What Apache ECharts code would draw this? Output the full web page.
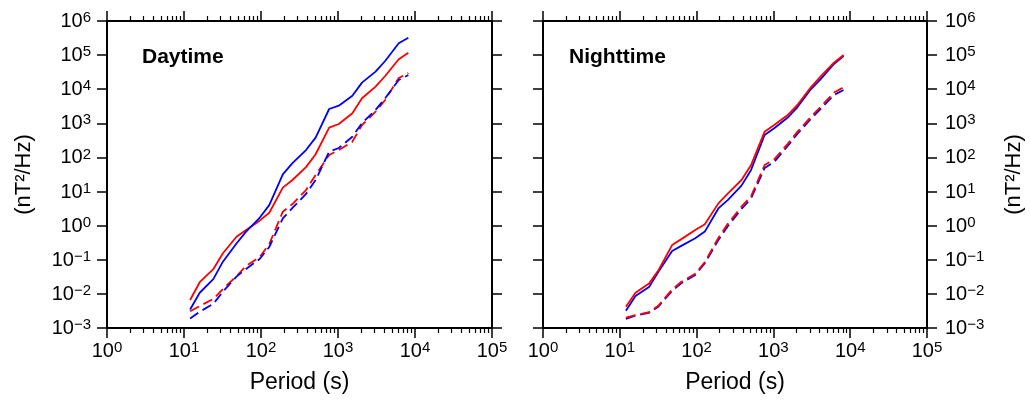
<!DOCTYPE html>
<html>
<head>
<meta charset="utf-8">
<script src="https://cdn.jsdelivr.net/npm/echarts@6/dist/echarts.min.js"></script>
<style>
html,body{margin:0;padding:0;background:#fff;}
#chart{width:1030px;height:403px;}
</style>
</head>
<body>
<div id="chart"></div>
<script>
// ---- data ----
const periods = [12, 16, 24, 32, 48, 64, 96, 128, 192, 256, 384, 512, 768, 1024, 1536, 2048, 3072, 4096, 6144, 8192];

const dayBlueSolid = [0.0035, 0.0108, 0.027, 0.088, 0.30, 0.67, 1.7, 4.0, 32, 68, 165, 380, 2630, 3290, 6460, 15600, 32700, 67300, 222000, 324000];
const dayRedSolid  = [0.0066, 0.022, 0.053, 0.155, 0.475, 0.75, 1.4, 2.4, 13, 21.8, 52, 124, 745, 957, 1970, 5420, 11900, 24400, 75400, 118000];
const dayBlueDash  = [0.0019, 0.003, 0.0051, 0.0116, 0.032, 0.054, 0.105, 0.237, 1.64, 3.3, 8.5, 21.8, 147, 189, 406, 1020, 2460, 5420, 18600, 26100];
const dayRedDash   = [0.0031, 0.0044, 0.0071, 0.0139, 0.033, 0.066, 0.12, 0.29, 2.57, 4.3, 11.1, 30.6, 118, 165, 290, 894, 2190, 4830, 21300, 29900];

const nightBlueSolid = [0.0032, 0.0087, 0.016, 0.045, 0.18, 0.26, 0.43, 0.67, 3.2, 5.7, 14.9, 43, 455, 716, 1480, 2950, 9950, 19500, 55000, 94200];
const nightRedSolid  = [0.0042, 0.0108, 0.020, 0.05, 0.27, 0.41, 0.75, 1.1, 4.5, 8.9, 21.8, 60, 569, 894, 1750, 3450, 11400, 23300, 60000, 101000];
const nightBlueDash  = [0.00184, 0.0023, 0.0028, 0.0043, 0.0122, 0.021, 0.036, 0.079, 0.38, 0.98, 3.1, 6.3, 49, 74, 217, 487, 1340, 2630, 6770, 9490];
const nightRedDash   = [0.0020, 0.0024, 0.0029, 0.0046, 0.0135, 0.023, 0.039, 0.086, 0.44, 1.15, 3.6, 7.3, 60, 88, 250, 560, 1550, 3000, 8000, 11400];

const xMajorTicks = [1, 10, 100, 1000, 10000, 100000];
const yMajorTicks = [0.001, 0.01, 0.1, 1, 10, 100, 1000, 10000, 100000, 1000000];
const minorMultipliers = [2, 3, 4, 5, 6, 7, 8, 9];
const xMinorTicks = [];
[1, 10, 100, 1000, 10000].forEach(d => minorMultipliers.forEach(m => xMinorTicks.push(d * m)));

const panelTitles = ['Daytime', 'Nighttime'];
const xTitle = 'Period (s)';
const yTitle = '(nT\u00b2/Hz)';

// ---- chart ----
const FONT = '"Liberation Sans", Arial, Helvetica, sans-serif';
const BLACK = '#000';

function supFormatter(v) {
  const e = Math.round(Math.log10(v));
  const s = e < 0 ? '\u2212' + (-e) : String(e);
  return '{b|10}{s|' + s + '}';
}
const labelRich = {
  b: { fontSize: 20, fontFamily: FONT, color: BLACK, lineHeight: 21, verticalAlign: 'bottom' },
  s: { fontSize: 15, fontFamily: FONT, color: BLACK, lineHeight: 15, padding: [0, 0, 9, 0], verticalAlign: 'top' }
};

function xAxesFor(gi) {
  const base = { type: 'log', logBase: 10, gridIndex: gi, min: 1, max: 100000, splitLine: { show: false }, axisPointer: { show: false } };
  return [
    Object.assign({}, base, {
      position: 'bottom',
      axisLine: { show: true, lineStyle: { color: BLACK, width: 2 } },
      axisTick: { show: true, inside: false, length: 10, customValues: xMajorTicks, lineStyle: { color: BLACK, width: 1.5 } },
      axisLabel: { show: true, customValues: xMajorTicks, formatter: supFormatter, rich: labelRich, margin: 12 },
      name: xTitle, nameLocation: 'middle', nameGap: 43,
      nameTextStyle: { fontSize: 23, fontFamily: FONT, color: BLACK }
    }),
    Object.assign({}, base, {
      position: 'bottom',
      axisLine: { show: false },
      axisTick: { show: true, inside: false, length: 5, customValues: xMinorTicks, lineStyle: { color: BLACK, width: 1.2 } },
      axisLabel: { show: false }
    }),
    Object.assign({}, base, {
      position: 'top',
      axisLine: { show: true, lineStyle: { color: BLACK, width: 2 } },
      axisTick: { show: true, inside: false, length: 10, customValues: xMajorTicks, lineStyle: { color: BLACK, width: 1.5 } },
      axisLabel: { show: false }
    }),
    Object.assign({}, base, {
      position: 'top',
      axisLine: { show: false },
      axisTick: { show: true, inside: false, length: 5, customValues: xMinorTicks, lineStyle: { color: BLACK, width: 1.2 } },
      axisLabel: { show: false }
    })
  ];
}

function yAxisFor(gi, pos, withLabels) {
  const ax = {
    type: 'log', logBase: 10, gridIndex: gi, position: pos, min: 0.001, max: 1000000,
    splitLine: { show: false },
    axisLine: { show: true, lineStyle: { color: BLACK, width: 2 } },
    axisTick: { show: true, inside: false, length: 10, customValues: yMajorTicks, lineStyle: { color: BLACK, width: 1.5 } },
    axisLabel: withLabels
      ? { show: true, customValues: yMajorTicks, formatter: supFormatter, rich: labelRich, margin: pos === 'left' ? 16 : 18 }
      : { show: false }
  };
  if (withLabels) {
    ax.name = yTitle;
    ax.nameLocation = 'middle';
    ax.nameRotate = 90;
    ax.nameGap = pos === 'left' ? 72 : 76;
    ax.nameTextStyle = { fontSize: 22, fontFamily: FONT, color: BLACK };
  }
  return ax;
}

function pairs(ys) { return periods.map((p, i) => [p, ys[i]]); }

function line(xi, yi, ys, color, dashed) {
  return {
    type: 'line', xAxisIndex: xi, yAxisIndex: yi, data: pairs(ys),
    showSymbol: false, symbol: 'none', silent: true, animation: false,
    lineStyle: { color: color, width: 1.8, type: dashed ? [10, 5] : 'solid' },
    itemStyle: { color: color }
  };
}

const BLUE = '#0000ff', RED = '#ff0000';

const option = {
  backgroundColor: '#fff',
  animation: false,
  textStyle: { fontFamily: FONT },
  title: [
    { text: panelTitles[0], left: 142, top: 47, padding: 0, textStyle: { fontSize: 21, fontWeight: 'bold', fontFamily: FONT, color: BLACK } },
    { text: panelTitles[1], left: 569, top: 47, padding: 0, textStyle: { fontSize: 21, fontWeight: 'bold', fontFamily: FONT, color: BLACK } }
  ],
  grid: [
    { left: 107, top: 21, width: 385, height: 307 },
    { left: 543, top: 21, width: 384, height: 307 }
  ],
  xAxis: xAxesFor(0).concat(xAxesFor(1)),
  yAxis: [
    yAxisFor(0, 'left', true),
    yAxisFor(0, 'right', false),
    yAxisFor(1, 'left', false),
    yAxisFor(1, 'right', true)
  ],
  series: [
    line(0, 0, dayRedSolid, RED, false),
    line(0, 0, dayBlueSolid, BLUE, false),
    line(0, 0, dayRedDash, RED, true),
    line(0, 0, dayBlueDash, BLUE, true),
    line(4, 2, nightBlueSolid, BLUE, false),
    line(4, 2, nightRedSolid, RED, false),
    line(4, 2, nightBlueDash, BLUE, true),
    line(4, 2, nightRedDash, RED, true)
  ]
};

const chart = echarts.init(document.getElementById('chart'), null, { renderer: 'canvas' });
chart.setOption(option);
</script>
</body>
</html>
